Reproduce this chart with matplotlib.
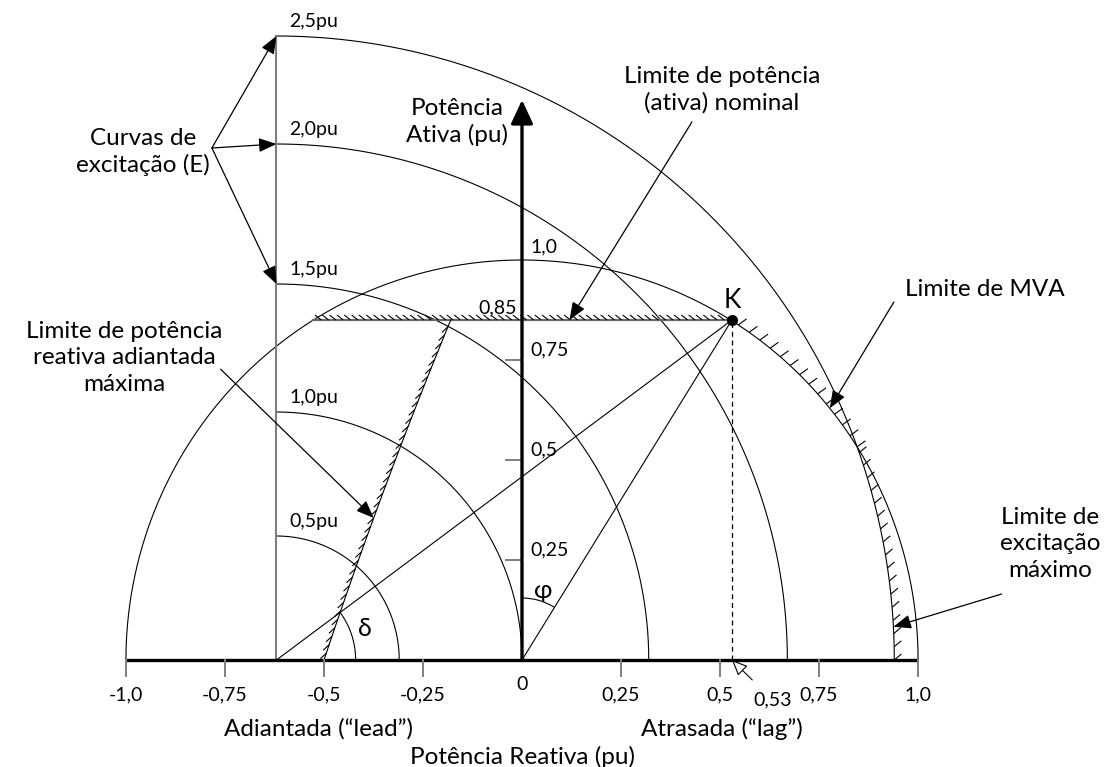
import matplotlib
matplotlib.use('Agg')
import matplotlib.pyplot as plt
import numpy as np
from matplotlib.patches import Arc
from matplotlib.collections import LineCollection

plt.rcParams['font.family'] = ['Lato', 'DejaVu Sans']

# eixo de potência reativa (Q) e ativa (P)
x_ticks = [-1.0, -0.75, -0.5, -0.25, 0.25, 0.5, 0.75, 1.0]
x_tick_labels = ['-1,0', '-0,75', '-0,5', '-0,25', '0,25', '0,5', '0,75', '1,0']
y_ticks = [0.25, 0.5, 0.75]
y_tick_labels = ['0,25', '0,5', '0,75']

# curvas de excitação E, centradas em -1/Xs
e_labels = ['0,5pu', '1,0pu', '1,5pu', '2,0pu', '2,5pu']
e_radii = [0.31, 0.62, 0.94, 1.29, 1.56]
e_center = -0.62

s_max = 1.0        # limite de MVA
p_nominal = 0.85   # potência ativa nominal
q_k = 0.53         # potência reativa no ponto K
# limite de reativo adiantado: início, controle, fim (curva de Bezier)
lead_limit = [(-0.5, 0.0), (-0.355, 0.43), (-0.18, 0.85)]

fig = plt.figure(figsize=(11.05, 7.67), dpi=100)
ax = fig.add_axes([0, 0, 1, 1])
ax.set_xlim(-1.318, 1.472)
ax.set_ylim(-0.2675, 1.65)
ax.axis('off')

thin = 0.8
gray = '#7f7f7f'
fs_lab = 17.5
fs_tick = 14


def hatch(xs, ys, dx, dy):
    segs = [[(x, y), (x + dx, y + dy)] for x, y in zip(xs, ys)]
    ax.add_collection(LineCollection(segs, colors='k', linewidths=0.8))


def bezier(pts, t):
    (x0, y0), (x1, y1), (x2, y2) = pts
    bx = (1 - t) ** 2 * x0 + 2 * (1 - t) * t * x1 + t ** 2 * x2
    by = (1 - t) ** 2 * y0 + 2 * (1 - t) * t * y1 + t ** 2 * y2
    return bx, by


# círculo de MVA
th = np.linspace(0, np.pi, 400)
ax.plot(s_max * np.cos(th), s_max * np.sin(th), color='k', lw=thin)

# curvas de excitação
th_q = np.linspace(0, np.pi / 2, 300)
for r, lab in zip(e_radii, e_labels):
    ax.plot(e_center + r * np.cos(th_q), r * np.sin(th_q), color='k', lw=thin)
    ax.text(e_center + 0.033, r + 0.035, lab, fontsize=fs_tick, ha='left', va='center')
ax.plot([e_center, e_center], [0, e_radii[-1]], color=gray, lw=1.5)

# limite de potência ativa nominal
q_left = -np.sqrt(s_max ** 2 - p_nominal ** 2)
ax.plot([q_left, q_k], [p_nominal, p_nominal], color='#6a6a6a', lw=1.6)
hx = np.arange(q_left + 0.02, q_k - 0.005, 0.0185)
hatch(hx, np.full_like(hx, p_nominal), -0.016, 0.0125)

# limite de MVA hachurado entre K e a curva de excitação máxima
r_max = e_radii[-1]
x_int = (s_max ** 2 + e_center ** 2 - r_max ** 2) / (2 * e_center)
y_int = np.sqrt(s_max ** 2 - x_int ** 2)
a_k = np.arctan2(p_nominal, q_k)
a_int = np.arctan2(y_int, x_int)
a = np.linspace(a_k - 0.02, a_int, 14)
hatch(s_max * np.cos(a), s_max * np.sin(a), 0.021, 0.015)

# limite de excitação máxima
b_int = np.arctan2(y_int, x_int - e_center)
b = np.linspace(b_int - 0.01, 0.0, 17)
hatch(e_center + r_max * np.cos(b), r_max * np.sin(b), 0.018, 0.015)

# limite de potência reativa adiantada
t = np.linspace(0, 1, 200)
lx, ly = bezier(lead_limit, t)
ax.plot(lx, ly, color='k', lw=thin)
tt = np.linspace(0.02, 0.98, 40)
hx, hy = bezier(lead_limit, tt)
hatch(hx, hy, -0.015, -0.014)

# retas a partir de K
ax.plot([0, q_k], [0, p_nominal], color='k', lw=thin)
ax.plot([e_center, q_k], [0, p_nominal], color='k', lw=thin)
ax.plot([q_k, q_k], [0, p_nominal], color='k', lw=0.9, ls=(0, (4, 3)))
ax.plot(q_k, p_nominal, 'o', color='k', ms=7)
ax.text(q_k, p_nominal + 0.05, 'K', fontsize=19, ha='center', va='center')

# ângulos phi e delta
ang_phi = np.degrees(np.arctan2(p_nominal, q_k))
ax.add_patch(Arc((0, 0), 0.31, 0.31, theta1=ang_phi, theta2=90, color='k', lw=thin))
ax.text(0.053, 0.175, 'φ', fontsize=18, ha='center', va='center')
ang_delta = np.degrees(np.arctan2(p_nominal, q_k - e_center))
ax.add_patch(Arc((e_center, 0), 0.4, 0.4, theta1=0, theta2=ang_delta, color='k', lw=thin))
ax.text(-0.396, 0.08, 'δ', fontsize=18, ha='center', va='center')

# eixos
ax.plot([-1.0, 1.0], [0, 0], color='k', lw=2.4, solid_capstyle='butt')
ax.annotate('', xy=(0, 1.4), xytext=(0, 0),
            arrowprops=dict(arrowstyle='-|>,head_length=0.9,head_width=0.42',
                            color='k', lw=2.4, shrinkA=0, shrinkB=0, mutation_scale=16))
for x, lab in zip(x_ticks, x_tick_labels):
    ax.plot([x, x], [0, -0.04], color=gray, lw=1.4)
    ax.text(x, -0.0875, lab, fontsize=fs_tick, ha='center', va='center')
ax.text(0, -0.06, '0', fontsize=fs_tick, ha='center', va='center')
for y, lab in zip(y_ticks, y_tick_labels):
    ax.plot([-0.04, 0], [y, y], color=gray, lw=1.4)
    ax.text(0.022, y + 0.025, lab, fontsize=fs_tick, ha='left', va='center')
ax.text(0.022, 1.0325, '1,0', fontsize=fs_tick, ha='left', va='center')
ax.text(-0.012, p_nominal + 0.03, '0,85', fontsize=fs_tick, ha='right', va='center')

# valor de Q no ponto K
ax.annotate('0,53', xy=(q_k, 0), xytext=(0.633, -0.1), fontsize=fs_tick,
            ha='center', va='center',
            arrowprops=dict(arrowstyle='-|>,head_length=0.8,head_width=0.35',
                            fc='white', ec='k', lw=0.8, shrinkA=9, shrinkB=0,
                            mutation_scale=12))

arrow = dict(arrowstyle='-|>,head_length=0.9,head_width=0.36', color='k',
             lw=0.9, shrinkA=0, shrinkB=0, mutation_scale=12)

# rótulos e setas explicativas
ax.text(-0.957, 1.27, 'Curvas de\nexcitação (E)', fontsize=fs_lab, ha='center',
        va='center', linespacing=1.3)
for r in e_radii[2:]:
    ax.annotate('', xy=(e_center, r), xytext=(-0.783, 1.28), arrowprops=arrow)

ax.text(-0.164, 1.345, 'Potência\nAtiva (pu)', fontsize=fs_lab, ha='center',
        va='center', linespacing=1.3)

ax.text(0.505, 1.425, 'Limite de potência\n(ativa) nominal', fontsize=fs_lab,
        ha='center', va='center', linespacing=1.3)
ax.annotate('', xy=(0.12, p_nominal), xytext=(0.429, 1.345), arrowprops=arrow)

ax.text(1.169, 0.925, 'Limite de MVA', fontsize=fs_lab, ha='center', va='center')
a_mva = np.radians(39.0)
ax.annotate('', xy=(s_max * np.cos(a_mva), s_max * np.sin(a_mva)),
            xytext=(0.939, 0.895), arrowprops=arrow)

ax.text(-1.005, 0.755, 'Limite de potência\nreativa adiantada\nmáxima', fontsize=fs_lab,
        ha='center', va='center', linespacing=1.3)
tip = bezier(lead_limit, 0.415)
ax.annotate('', xy=tip, xytext=(-0.761, 0.727), arrowprops=arrow)

ax.text(1.333, 0.29, 'Limite de\nexcitação\nmáximo', fontsize=fs_lab, ha='center',
        va='center', linespacing=1.3)
y_tip = 0.083
ax.annotate('', xy=(e_center + np.sqrt(r_max ** 2 - y_tip ** 2), y_tip),
            xytext=(1.211, 0.165), arrowprops=arrow)

ax.text(-0.515, -0.1725, 'Adiantada (“lead”)', fontsize=fs_lab, ha='center', va='center')
ax.text(0.505, -0.1725, 'Atrasada (“lag”)', fontsize=fs_lab, ha='center', va='center')
ax.text(0, -0.2425, 'Potência Reativa (pu)', fontsize=fs_lab, ha='center', va='center')

fig.savefig('out.png', dpi=100)
